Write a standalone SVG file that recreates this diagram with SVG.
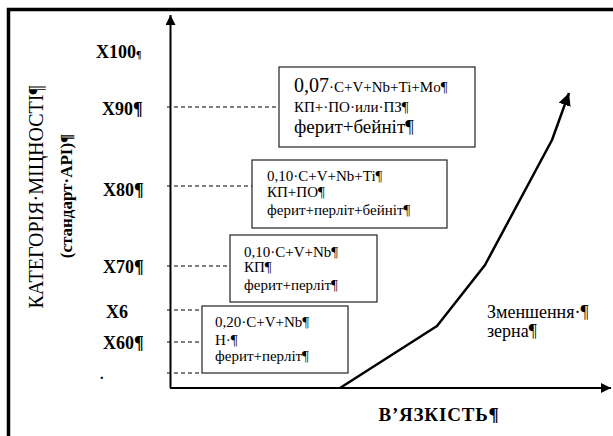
<svg xmlns="http://www.w3.org/2000/svg" width="613" height="436" viewBox="0 0 613 436">
<defs>
<style>
.box{fill:#fff;stroke:#222;stroke-width:1.2}
.dash{stroke:#000;stroke-width:1;stroke-dasharray:4,3;fill:none}
.ax{stroke:#000;stroke-width:2;fill:none}
</style>
<marker id="ah" viewBox="0 0 10 10" refX="10" refY="5" markerWidth="5" markerHeight="5" orient="auto" markerUnits="strokeWidth">
<path d="M0,0 L10,5 L0,10 z" fill="#000"/>
</marker>
</defs>
<rect width="613" height="436" fill="#fff"/>
<path d="M8.5,440 V9.5 H620" stroke="#000" stroke-width="3.5" fill="none"/>

<g font-family="'Liberation Serif', 'Times New Roman', 'DejaVu Serif', serif" fill="#000">
<g id="labels-y">
<text x="43" y="197" font-size="20" text-anchor="middle" transform="rotate(-90 43 197)">КАТЕГОРІЯ·МІЦНОСТІ¶</text>
<text x="72" y="196" font-size="17" font-weight="bold" text-anchor="middle" transform="rotate(-90 72 196)">(стандарт·API)¶</text>
<text x="96" y="58" font-size="18" font-weight="bold">X100<tspan font-size="10">¶</tspan></text>
<text x="102" y="115" font-size="18" font-weight="bold">X90¶</text>
<text x="103" y="196" font-size="18" font-weight="bold">X80¶</text>
<text x="103" y="273" font-size="18" font-weight="bold">X70¶</text>
<text x="106" y="318" font-size="18" font-weight="bold">X6</text>
<text x="103" y="349" font-size="18" font-weight="bold">X60¶</text>
<text x="100" y="379" font-size="14" font-weight="bold">.</text>
</g>

<g id="box1">
<rect class="box" x="279" y="67" width="196" height="80"/>
<text x="294" y="92"><tspan font-size="20">0,07</tspan><tspan font-size="15">·C+V+Nb+Ti+Mo¶</tspan></text>
<text x="294" y="112" font-size="15">КП+·ПО·или·ПЗ¶</text>
<text x="294" y="133" font-size="19">ферит+бейніт¶</text>
</g>

<g id="box2">
<rect class="box" x="252" y="160" width="195" height="68"/>
<text x="267" y="181" font-size="15">0,10·C+V+Nb+Ti¶</text>
<text x="267" y="197" font-size="15">КП+ПО¶</text>
<text x="267" y="215" font-size="15">ферит+перліт+бейніт¶</text>
</g>

<g id="box3">
<rect class="box" x="230" y="235" width="147" height="67"/>
<text x="244" y="257" font-size="15">0,10·C+V+Nb¶</text>
<text x="244" y="272" font-size="15">КП¶</text>
<text x="244" y="290" font-size="15">ферит+перліт¶</text>
</g>

<g id="box4">
<rect class="box" x="202" y="306" width="146" height="67"/>
<text x="215" y="327" font-size="15">0,20·C+V+Nb¶</text>
<text x="215" y="345" font-size="15">Н·¶</text>
<text x="215" y="361" font-size="15">ферит+перліт¶</text>
</g>

<g id="grain">
<text x="487" y="318" font-size="18">Зменшення·¶</text>
<text x="487" y="337" font-size="18">зерна¶</text>
</g>

<g id="label-x">
<text x="439" y="421" font-size="19" font-weight="bold" text-anchor="middle" letter-spacing="0.8">В’ЯЗКІСТЬ¶</text>
</g>
</g>

<g id="connectors">
<line class="dash" x1="167" y1="107" x2="279" y2="107"/>
<line class="dash" x1="167" y1="186" x2="252" y2="186"/>
<line class="dash" x1="167" y1="266" x2="230" y2="266"/>
<line class="dash" x1="167" y1="310" x2="202" y2="310"/>
<line class="dash" x1="167" y1="342" x2="202" y2="342"/>
<line class="dash" x1="167" y1="373" x2="202" y2="373"/>
<line class="ax" x1="170.5" y1="388" x2="170.5" y2="15" marker-end="url(#ah)"/>
<line class="ax" x1="170" y1="388" x2="611" y2="388" marker-end="url(#ah)"/>
<polyline points="340,388 437,326 485,265 552,140 569,93" stroke="#000" stroke-width="2.5" fill="none" stroke-linejoin="round" marker-end="url(#ah)"/>
</g>
</svg>
